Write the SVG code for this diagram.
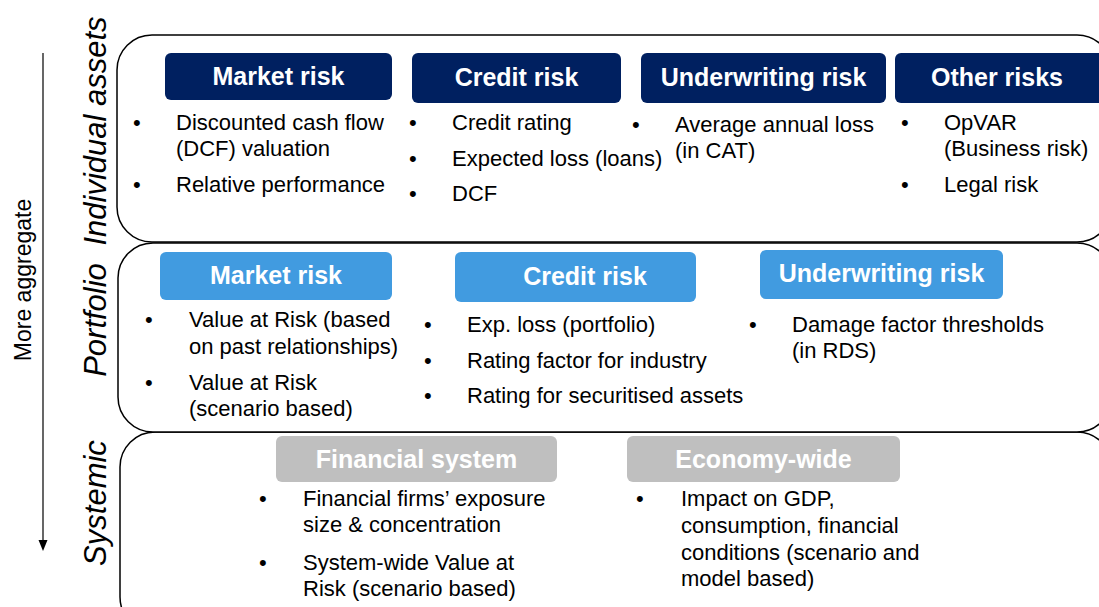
<svg xmlns="http://www.w3.org/2000/svg" width="1099" height="607" viewBox="0 0 1099 607">
<defs>
<style>
.panel{fill:#fff;stroke:#000;stroke-width:1.5}
.hd{fill:#002060}
.hl{fill:#419BE0}
.hg{fill:#BFBFBF}
.ht{font-family:"Liberation Sans",Arial,sans-serif;font-weight:bold;font-size:25px;fill:#fff;text-anchor:middle}
.t{font-family:"Liberation Sans",Arial,sans-serif;font-size:22px;fill:#000}
.side{font-family:"Liberation Sans",Arial,sans-serif;font-style:italic;font-size:31px;fill:#000;text-anchor:middle}
.agg{font-family:"Liberation Sans",Arial,sans-serif;font-size:23px;fill:#000;text-anchor:middle}
</style>
</defs>

<g id="connectors">
<line x1="43" y1="53" x2="43" y2="542" stroke="#000" stroke-width="1.2"/>
<path d="M38.5,540 L47.5,540 L43,551 Z" fill="#000"/>
</g>

<g id="labels">
<text class="agg" transform="translate(31,280) rotate(-90)">More  aggregate</text>
<text class="side" transform="translate(106,131) rotate(-90)">Individual assets</text>
<text class="side" transform="translate(106,320) rotate(-90)">Portfolio</text>
<text class="side" transform="translate(106,503) rotate(-90)">Systemic</text>
</g>

<g id="panel-systemic">
<rect class="panel" x="120" y="432" width="992" height="200" rx="35" ry="35"/>
</g>
<g id="panel-portfolio">
<rect class="panel" x="118" y="243" width="994" height="189" rx="35" ry="35"/>
</g>
<g id="panel-individual">
<rect class="panel" x="117" y="35" width="995" height="207" rx="35" ry="35"/>
</g>

<g id="ind-market">
<rect class="hd" x="165" y="53" width="227" height="47" rx="6"/>
<text class="ht" x="278.5" y="85">Market risk</text>
<text class="t" x="133" y="130">•</text>
<text class="t" x="176" y="130">Discounted cash flow</text>
<text class="t" x="176" y="156">(DCF) valuation</text>
<text class="t" x="133" y="192">•</text>
<text class="t" x="176" y="192">Relative performance</text>
</g>

<g id="ind-credit">
<rect class="hd" x="412" y="53" width="209" height="50" rx="6"/>
<text class="ht" x="516.5" y="86">Credit risk</text>
<text class="t" x="409" y="130">•</text>
<text class="t" x="452" y="130">Credit rating</text>
<text class="t" x="409" y="166">•</text>
<text class="t" x="452" y="166">Expected loss (loans)</text>
<text class="t" x="409" y="201">•</text>
<text class="t" x="452" y="201">DCF</text>
</g>

<g id="ind-underwriting">
<rect class="hd" x="641" y="53" width="245" height="50" rx="6"/>
<text class="ht" x="763.5" y="86">Underwriting  risk</text>
<text class="t" x="632" y="132">•</text>
<text class="t" x="675" y="132">Average annual loss</text>
<text class="t" x="675" y="158">(in CAT)</text>
</g>

<g id="ind-other">
<rect class="hd" x="895" y="53" width="215" height="50" rx="6"/>
<text class="ht" x="997" y="86">Other risks</text>
<text class="t" x="901" y="130">•</text>
<text class="t" x="944" y="130">OpVAR</text>
<text class="t" x="944" y="156">(Business risk)</text>
<text class="t" x="901" y="192">•</text>
<text class="t" x="944" y="192">Legal risk</text>
</g>

<g id="port-market">
<rect class="hl" x="160" y="252" width="232" height="48" rx="6"/>
<text class="ht" x="276" y="284">Market risk</text>
<text class="t" x="145" y="327">•</text>
<text class="t" x="189" y="327">Value at Risk (based</text>
<text class="t" x="189" y="354">on past relationships)</text>
<text class="t" x="145" y="390">•</text>
<text class="t" x="189" y="390">Value at Risk</text>
<text class="t" x="189" y="416">(scenario based)</text>
</g>

<g id="port-credit">
<rect class="hl" x="455" y="252" width="241" height="50" rx="6"/>
<text class="ht" x="585" y="285">Credit risk</text>
<text class="t" x="424" y="332">•</text>
<text class="t" x="467" y="332">Exp. loss (portfolio)</text>
<text class="t" x="424" y="368">•</text>
<text class="t" x="467" y="368">Rating factor for industry</text>
<text class="t" x="424" y="403">•</text>
<text class="t" x="467" y="403">Rating for securitised assets</text>
</g>

<g id="port-underwriting">
<rect class="hl" x="760" y="250" width="243" height="49" rx="6"/>
<text class="ht" x="881.5" y="282">Underwriting  risk</text>
<text class="t" x="749" y="332">•</text>
<text class="t" x="792" y="332">Damage factor thresholds</text>
<text class="t" x="792" y="358">(in RDS)</text>
</g>

<g id="sys-financial">
<rect class="hg" x="276" y="436" width="281" height="46" rx="6"/>
<text class="ht" x="416.5" y="468">Financial  system</text>
<text class="t" x="259" y="506">•</text>
<text class="t" x="303" y="506">Financial firms’ exposure</text>
<text class="t" x="303" y="532">size &amp; concentration</text>
<text class="t" x="259" y="570">•</text>
<text class="t" x="303" y="570">System-wide Value at</text>
<text class="t" x="303" y="596">Risk (scenario based)</text>
</g>

<g id="sys-economy">
<rect class="hg" x="627" y="436" width="273" height="46" rx="6"/>
<text class="ht" x="763.5" y="468">Economy-wide</text>
<text class="t" x="636" y="506">•</text>
<text class="t" x="681" y="506">Impact on GDP,</text>
<text class="t" x="681" y="533">consumption, financial</text>
<text class="t" x="681" y="560">conditions (scenario and</text>
<text class="t" x="681" y="586">model based)</text>
</g>
</svg>
